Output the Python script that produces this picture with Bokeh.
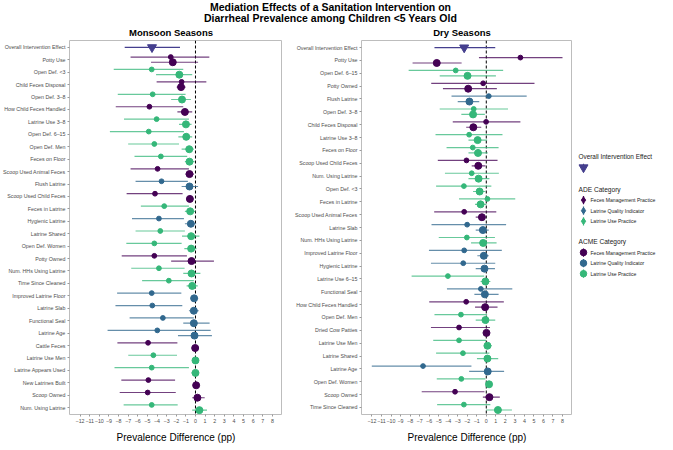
from bokeh.plotting import figure
from bokeh.layouts import column, row
from bokeh.models import Range1d, FixedTicker, ColumnDataSource, Span
from bokeh.embed import file_html
from bokeh.resources import INLINE
from bokeh.core.properties import value

# ---------------- data ----------------
title_lines = ["Mediation Effects of a Sanitation Intervention on",
               "Diarrheal Prevalence among Children <5 Years Old"]
overall_label = "Overall Intervention Effect"
x_label = "Prevalence Difference (pp)"
x_ticks = list(range(-12, 9))

cat_names = {"F": "Feces Management Practice", "Q": "Latrine Quality Indicator", "U": "Latrine Use Practice"}
cat_order = ["F", "Q", "U"]

# Monsoon seasons
m_title = "Monsoon Seasons"
m_overall = [-4.52, -7.36, -1.61]
m_labels = ["Potty Use", "Open Def. <3", "Child Feces Disposal", "Open Def. 3\u20138", "How Child Feces Handled",
            "Latrine Use 3\u20138", "Open Def. 6\u201315", "Open Def. Men", "Feces on Floor", "Scoop Used Animal Feces",
            "Flush Latrine", "Scoop Used Child Feces", "Feces in Latrine", "Hygienic Latrine", "Latrine Shared",
            "Open Def. Women", "Potty Owned", "Num. HHs Using Latrine", "Time Since Cleaned", "Improved Latrine Floor",
            "Latrine Slab", "Functional Seal", "Latrine Age", "Cattle Feces", "Latrine Use Men",
            "Latrine Appears Used", "New Latrines Built", "Scoop Owned", "Num. Using Latrine"]
m_cats = ["F", "U", "F", "U", "F", "U", "U", "U", "U", "F", "Q", "F", "U", "Q", "U",
          "U", "F", "U", "U", "Q", "Q", "Q", "Q", "F", "U", "U", "F", "F", "U"]
m_ade = [-2.57, -4.55, -1.44, -4.45, -4.79, -4.04, -4.86, -4.28, -3.6, -3.94, -3.53, -4.21, -3.25, -3.8, -3.66,
         -4.28, -4.28, -3.8, -2.77, -4.55, -4.49, -3.39, -3.97, -4.93, -4.38, -4.55, -4.9, -4.97, -4.55]
m_ade_lo = [-6.75, -8.5, -4.04, -8.08, -8.29, -7.43, -8.9, -7.0, -6.34, -6.75, -6.23, -7.16, -5.68, -6.6, -6.23,
            -7.19, -7.67, -6.68, -5.55, -8.15, -8.32, -6.85, -9.14, -8.12, -6.99, -8.42, -7.71, -7.88, -7.47]
m_ade_hi = [1.44, -1.27, 1.13, -1.03, -1.27, -0.68, -1.2, -1.71, -0.86, -0.68, -0.79, -1.34, -0.68, -1.2, -1.1,
            -1.44, -0.89, -1.13, -0.17, -1.47, -1.37, -0.17, 1.58, -1.88, -1.92, -0.68, -2.12, -2.05, -1.85]
m_acme = [-2.36, -1.68, -1.5, -1.4, -1.1, -0.99, -0.96, -0.65, -0.62, -0.62, -0.62, -0.58, -0.55, -0.48, -0.45,
          -0.45, -0.41, -0.41, -0.34, -0.14, -0.17, -0.17, -0.1, -0.03, 0.0, 0.0, 0.07, 0.2, 0.41]
m_acme_lo = [-4.62, -4.1, -1.95, -2.53, -1.88, -1.71, -1.78, -1.44, -1.1, -1.03, -1.44, -0.92, -1.1, -1.1, -1.4,
             -1.16, -2.53, -1.27, -0.92, -0.51, -0.68, -1.27, -1.82, -0.24, -0.24, -0.41, -0.24, -0.34, -0.34]
m_acme_hi = [0.27, -0.34, -1.03, -0.48, -0.34, -0.41, -0.34, -0.17, -0.1, -0.17, 0.27, -0.24, 0.0, 0.07, 0.41,
             0.1, 1.92, 0.51, 0.24, 0.27, 0.34, 1.47, 1.71, 0.24, 0.24, 0.34, 0.34, 0.96, 1.2]

# Dry seasons
d_title = "Dry Seasons"
d_overall = [-2.32, -5.44, 0.94]
d_labels = ["Potty Use", "Open Def. 6\u201315", "Potty Owned", "Flush Latrine", "Open Def. 3\u20138",
            "Child Feces Disposal", "Latrine Use 3\u20138", "Feces on Floor", "Scoop Used Child Feces",
            "Num. Using Latrine", "Open Def. <3", "Feces in Latrine", "Scoop Used Animal Feces", "Latrine Slab",
            "Num. HHs Using Latrine", "Improved Latrine Floor", "Hygienic Latrine", "Latrine Use 6\u201315",
            "Functional Seal", "How Child Feces Handled", "Open Def. Men", "Dried Cow Patties", "Latrine Use Men",
            "Latrine Shared", "Latrine Age", "Open Def. Women", "Scoop Owned", "Time Since Cleaned"]
d_cats = ["F", "U", "F", "Q", "U", "F", "U", "U", "F", "U", "U", "U", "F", "Q",
          "U", "Q", "Q", "U", "Q", "F", "U", "F", "U", "U", "Q", "U", "F", "U"]
d_ade = [3.58, -3.21, -0.33, 0.26, -1.32, -0.02, -1.8, -1.42, -2.08, -1.53, -2.35, 0.12, -2.32, -2.01,
         -2.04, -2.32, -2.42, -4.03, -0.57, -2.11, -2.66, -2.86, -2.86, -2.45, -6.64, -2.62, -3.28, -2.35]
d_ade_lo = [-0.77, -8.15, -5.78, -3.65, -4.89, -3.52, -5.33, -4.17, -5.09, -4.34, -5.27, -2.86, -5.47, -5.75,
            -4.99, -6.02, -5.81, -7.84, -4.13, -5.99, -5.44, -5.81, -5.57, -5.27, -12.02, -5.2, -6.78, -5.16]
d_ade_hi = [8.0, 1.77, 5.06, 4.24, 2.28, 3.58, 1.7, 1.29, 1.18, 1.32, 0.53, 3.04, 1.05, 2.08,
            0.91, 1.63, 0.94, -0.22, 2.73, 1.84, 0.09, 0.39, -0.02, 0.33, -1.56, -0.09, -0.19, 0.43]
d_acme = [-5.2, -1.97, -1.9, -1.77, -1.39, -1.36, -0.91, -0.87, -0.84, -0.81, -0.7, -0.6, -0.46, -0.36,
          -0.33, -0.26, -0.19, -0.09, -0.15, -0.12, -0.09, 0.02, 0.12, 0.12, 0.15, 0.29, 0.33, 1.22]
d_acme_lo = [-7.74, -4.89, -4.55, -3.0, -2.62, -2.11, -1.87, -1.87, -1.53, -1.87, -1.39, -1.18, -1.11, -1.11,
             -1.6, -0.94, -1.11, -0.6, -1.25, -1.18, -1.11, -0.26, -0.26, -0.98, -1.8, 0.02, -0.36, -0.02]
d_acme_hi = [-2.59, 1.01, 1.11, -0.74, -0.15, -0.53, 0.09, 0.15, -0.09, 0.33, -0.09, 0.02, -0.09, 0.26,
             1.08, 0.26, 0.91, 0.43, 1.29, 1.18, 0.94, 0.29, 0.6, 1.25, 1.87, 0.6, 1.42, 2.69]

# ---------------- style ----------------
FONT = "Liberation Sans"
COLORS = {"F": "#440154", "Q": "#31688e", "U": "#35b779"}
OVERALL_COLOR = "#453f8e"
FRAME_H = 374
X_RANGE = (-13.1, 9.05)
P1_LEFT, P1_FW = 64, 213
P2_LEFT, P2_FW = 79, 211
LEG_W = 90
TOTAL_W = 657
TITLE_H = 39
ADE_SIZE, ACME_SIZE, TRI_SIZE = 4.8, 7, 9


def minus(t):
    return str(t).replace("-", "\u2212")


def panel(labels, cats, ade, ade_lo, ade_hi, acme, acme_lo, acme_hi, overall, border_left, frame_w):
    all_labels = [overall_label] + labels
    n = len(all_labels)
    ys = [n - 1 - i for i in range(n)]
    p = figure(frame_width=frame_w, frame_height=FRAME_H,
               min_border_left=border_left, min_border_right=0, min_border_top=1, min_border_bottom=0,
               x_range=Range1d(*X_RANGE), y_range=Range1d(-0.55, n - 1 + 0.55),
               output_backend="svg", toolbar_location=None)
    p.xgrid.visible = False
    p.ygrid.visible = False
    p.outline_line_color = "#bdbdbd"
    p.outline_line_width = 1
    p.background_fill_color = "white"
    p.border_fill_color = "white"

    p.add_layout(Span(location=0, dimension="height", line_color="black", line_width=1,
                      line_dash="3 2", level="underlay"))

    row_y = ys[1:]
    cols = [COLORS[c] for c in cats]
    ade_src = ColumnDataSource(dict(y=[v + 0.22 for v in row_y], x=ade, lo=ade_lo, hi=ade_hi, c=cols))
    acme_src = ColumnDataSource(dict(y=[v - 0.2 for v in row_y], x=acme, lo=acme_lo, hi=acme_hi, c=cols))

    # overall
    p.segment(x0=[overall[1]], y0=[ys[0]], x1=[overall[2]], y1=[ys[0]], line_color=OVERALL_COLOR, line_width=1.2)
    p.scatter(x=[overall[0]], y=[ys[0]], marker="inverted_triangle", size=TRI_SIZE,
              fill_color=OVERALL_COLOR, line_color=OVERALL_COLOR)

    p.segment(x0="lo", y0="y", x1="hi", y1="y", line_color="c", line_width=1.2, line_alpha=0.75, source=ade_src)
    p.scatter(x="x", y="y", marker="circle", size=ADE_SIZE, fill_color="c", line_color="c", source=ade_src)
    p.segment(x0="lo", y0="y", x1="hi", y1="y", line_color="c", line_width=1.2, line_alpha=0.75, source=acme_src)
    p.scatter(x="x", y="y", marker="circle", size=ACME_SIZE, fill_color="c", line_color="c", source=acme_src)

    p.yaxis.ticker = FixedTicker(ticks=ys)
    p.yaxis.major_label_overrides = {y: lab for y, lab in zip(ys, all_labels)}
    p.xaxis.ticker = FixedTicker(ticks=x_ticks)
    p.xaxis.major_label_overrides = {t: minus(t) for t in x_ticks}
    for ax in (p.xaxis, p.yaxis):
        ax.axis_line_color = None
        ax.major_tick_line_color = "#9a9a9a"
        ax.major_tick_out = 2
        ax.major_tick_in = 0
        ax.minor_tick_line_color = None
        ax.major_label_text_font = FONT
        ax.major_label_text_font_size = "5.3px"
        ax.major_label_text_color = "#4d4d4d"
        ax.major_label_standoff = 2
    p.xaxis.axis_label = x_label
    p.xaxis.axis_label_text_font = FONT
    p.xaxis.axis_label_text_font_size = "10px"
    p.xaxis.axis_label_text_font_style = "normal"
    p.xaxis.axis_label_text_color = "black"
    p.xaxis.axis_label_standoff = 6
    return p


p1 = panel(m_labels, m_cats, m_ade, m_ade_lo, m_ade_hi, m_acme, m_acme_lo, m_acme_hi, m_overall, P1_LEFT, P1_FW)
p2 = panel(d_labels, d_cats, d_ade, d_ade_lo, d_ade_hi, d_acme, d_acme_lo, d_acme_hi, d_overall, P2_LEFT, P2_FW)

# ---------------- title figure ----------------
tfig = figure(width=TOTAL_W, height=TITLE_H, x_range=Range1d(0, TOTAL_W), y_range=Range1d(TITLE_H, 0),
              x_axis_type=None, y_axis_type=None, min_border=0, output_backend="svg", toolbar_location=None)
tfig.xgrid.visible = False
tfig.ygrid.visible = False
tfig.outline_line_color = None
tfig.text(x=[330, 330], y=[6, 17], text=title_lines, text_font=value(FONT), text_font_style="bold",
          text_font_size="10.5px", text_align="center", text_baseline="middle", text_color="black")
c1 = P1_LEFT + P1_FW / 2
c2 = P1_LEFT + P1_FW + P2_LEFT + P2_FW / 2
tfig.text(x=[c1, c2], y=[32, 32], text=[m_title, d_title], text_font=value(FONT), text_font_style="bold",
          text_font_size="9.5px", text_align="center", text_baseline="middle", text_color="black")

# ---------------- legend figure ----------------
LEG_H = 400
leg = figure(width=LEG_W, height=LEG_H, x_range=Range1d(0, LEG_W), y_range=Range1d(LEG_H, 0),
             x_axis_type=None, y_axis_type=None, min_border=0, output_backend="svg", toolbar_location=None)
leg.xgrid.visible = False
leg.ygrid.visible = False
leg.outline_line_color = None

tx, gx, ix = 6, 11, 18
y0 = 126
leg.text(x=[tx], y=[y0], text=[overall_label], text_font=value(FONT), text_font_size="6.4px",
         text_baseline="middle", text_color="#222222")
leg.segment(x0=[gx], y0=[y0 + 8], x1=[gx], y1=[y0 + 16], line_color=OVERALL_COLOR, line_width=1.2)
leg.scatter(x=[gx], y=[y0 + 12], marker="inverted_triangle", size=TRI_SIZE, fill_color=OVERALL_COLOR,
            line_color=OVERALL_COLOR)

step = 11.5
for title, ybase, marker, msize in (("ADE Category", 162, "diamond", 6.5), ("ACME Category", 219, "circle", 6.5)):
    leg.text(x=[tx], y=[ybase], text=[title], text_font=value(FONT), text_font_size="6.6px",
             text_baseline="middle", text_color="#222222")
    iy = [ybase + step * (k + 1) for k in range(len(cat_order))]
    ic = [COLORS[c] for c in cat_order]
    leg.segment(x0=[gx] * 3, y0=[v - 4.5 for v in iy], x1=[gx] * 3, y1=[v + 4.5 for v in iy],
                line_color=ic, line_width=1.2)
    leg.scatter(x=[gx] * 3, y=iy, marker=marker, size=msize, fill_color=ic, line_color=ic)
    leg.text(x=[ix] * 3, y=iy, text=[cat_names[c] for c in cat_order], text_font=value(FONT),
             text_font_size="5.1px", text_baseline="middle", text_color="#222222")

layout = column(tfig, row(p1, p2, leg))
open("out.html", "w").write(file_html(layout, INLINE))
